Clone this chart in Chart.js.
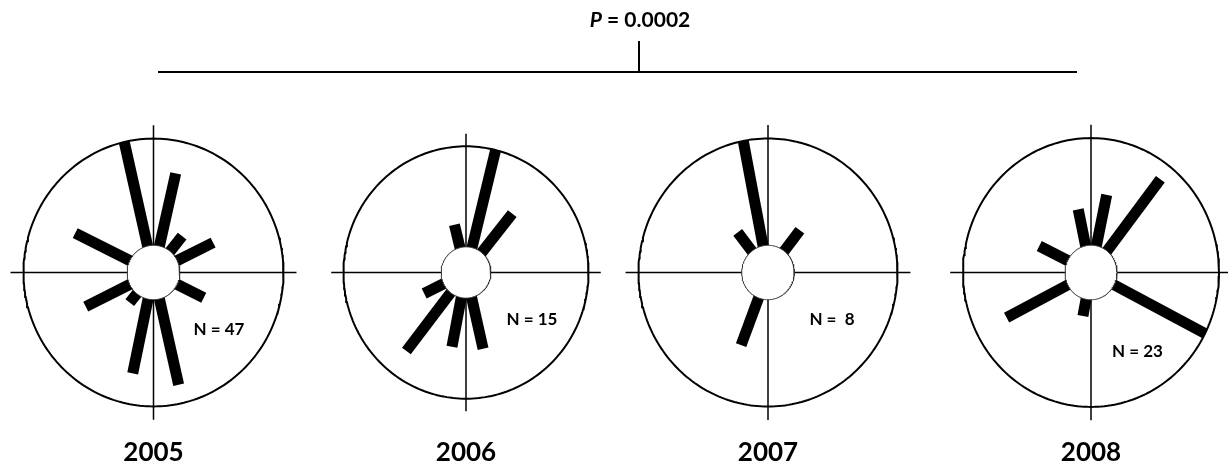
<!DOCTYPE html>
<html><head><meta charset="utf-8">
<script src="https://cdn.jsdelivr.net/npm/chart.js@4/dist/chart.umd.min.js"></script>
<style>html,body{margin:0;padding:0;background:#fff;overflow:hidden}canvas{display:block}</style>
</head><body>
<canvas id="c" width="1228" height="470"></canvas>
<script>
// ---- data ----
const years = ['2005', '2006', '2007', '2008'];
const sampleSizes = ['47', '15', ' 8', '23'];
const pValue = '0.0002';
// bar directions (degrees clockwise from north) and reach (fraction of outer circle radius)
const dir2005 = [347, 13, 39, 64, 116, 167, 192, 219, 244, 296];
const len2005 = [1.00, 0.76, 0.35, 0.51, 0.43, 0.86, 0.77, 0.29, 0.58, 0.67];
const dir2006 = [346, 14, 39, 167, 191, 218, 244];
const len2006 = [0.39, 1.00, 0.60, 0.62, 0.60, 0.79, 0.38];
const dir2007 = [349, 322, 38, 201];
const len2007 = [1.00, 0.38, 0.40, 0.58];
const dir2008 = [348, 12, 38, 117, 191, 243, 296];
const len2008 = [0.48, 0.59, 0.88, 1.00, 0.33, 0.74, 0.45];

// ---- layout (not data) ----
const dirs = [dir2005, dir2006, dir2007, dir2008];
const lens = [len2005, len2006, len2007, len2008];
const CX = [153.5, 466, 768, 1091];
const CY = 272.5;
const RX = [130, 122.5, 129.5, 128];
const STR = [1.03, 1.03, 1.035, 1.05];
const R_IN = 26 / 128;
const AXIS_EXT = 0.1;
const NPOS = [[219, 330], [532, 320], [832, 320], [1137.5, 352]];
const YEAR_Y = 453;
const BRACKET = {x0: 158, x1: 1077, y: 72, tickX: 639, tickTop: 41};
const P_POS = [640, 27];

function pt(i, deg, r) {
  const a = deg * Math.PI / 180;
  return {x: CX[i] + r * RX[i] * Math.sin(a), y: CY - r * RX[i] * STR[i] * Math.cos(a)};
}
function ring(i, r) {
  const arr = [];
  for (let k = 0; k <= 240; k++) arr.push(pt(i, k * 1.5, r));
  return arr;
}

const datasets = [];
const base = {showLine: true, pointRadius: 0, tension: 0, fill: false, borderColor: '#000', borderCapStyle: 'butt'};
for (let i = 0; i < 4; i++) {
  datasets.push({...base, data: ring(i, 1), borderWidth: 2, order: 3});
  datasets.push({...base, data: [pt(i, 270, 1 + AXIS_EXT), pt(i, 90, 1 + AXIS_EXT)], borderWidth: 1.5, order: 3});
  datasets.push({...base, data: [pt(i, 0, 1 + AXIS_EXT), pt(i, 180, 1 + AXIS_EXT)], borderWidth: 1.5, order: 3});
  dirs[i].forEach((d, j) => {
    datasets.push({...base, data: [pt(i, d, 0), pt(i, d, lens[i][j])], borderWidth: 11, order: 2});
  });
  datasets.push({...base, data: ring(i, R_IN), borderWidth: 1, borderColor: '#333', fill: 'shape', backgroundColor: '#fff', order: 1});
}
datasets.push({...base, data: [{x: BRACKET.x0, y: BRACKET.y}, {x: BRACKET.x1, y: BRACKET.y}], borderWidth: 2, order: 4});
datasets.push({...base, data: [{x: BRACKET.tickX, y: BRACKET.tickTop}, {x: BRACKET.tickX, y: BRACKET.y}], borderWidth: 2, order: 4});

const FONT = 'Lato, "Open Sans", sans-serif';
const textPlugin = {
  id: 'texts',
  afterDraw(chart) {
    const {ctx, scales: {x, y}} = chart;
    ctx.save();
    ctx.fillStyle = '#000';
    ctx.textBaseline = 'middle';
    ctx.textAlign = 'center';
    ctx.font = 'bold 26px ' + FONT;
    years.forEach((t, i) => ctx.fillText(t, x.getPixelForValue(CX[i]), y.getPixelForValue(YEAR_Y)));
    ctx.font = 'bold 17px ' + FONT;
    sampleSizes.forEach((n, i) => ctx.fillText('N = ' + n, x.getPixelForValue(NPOS[i][0]), y.getPixelForValue(NPOS[i][1])));
    // P value title with italic P
    ctx.textBaseline = 'alphabetic';
    ctx.textAlign = 'left';
    const f1 = 'italic bold 21px ' + FONT, f2 = 'bold 21px ' + FONT;
    const rest = ' = ' + pValue;
    ctx.font = f1; const w1 = ctx.measureText('P').width;
    ctx.font = f2; const w2 = ctx.measureText(rest).width;
    const x0 = x.getPixelForValue(P_POS[0]) - (w1 + w2) / 2;
    const yb = y.getPixelForValue(P_POS[1]);
    ctx.font = f1; ctx.fillText('P', x0, yb);
    ctx.font = f2; ctx.fillText(rest, x0 + w1, yb);
    ctx.restore();
  }
};

new Chart(document.getElementById('c'), {
  type: 'line',
  data: {datasets},
  options: {
    responsive: false,
    animation: false,
    events: [],
    layout: {padding: 0},
    scales: {
      x: {type: 'linear', min: 0, max: 1228, display: false},
      y: {type: 'linear', min: 0, max: 470, reverse: true, display: false}
    },
    plugins: {legend: {display: false}, tooltip: {enabled: false}, title: {display: false}}
  },
  plugins: [textPlugin]
});
</script>
</body></html>
